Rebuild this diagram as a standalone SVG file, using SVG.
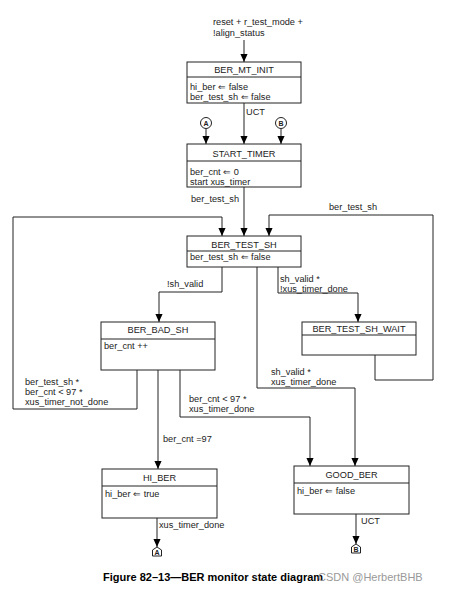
<svg xmlns="http://www.w3.org/2000/svg" width="452" height="592" viewBox="0 0 452 592">
<defs>
<marker id="ah" markerUnits="userSpaceOnUse" markerWidth="8" markerHeight="9" refX="9" refY="4" orient="auto" viewBox="0 0 9 8">
<path d="M0,0 L9,4 L0,8 z" fill="#000"/>
</marker>
</defs>
<style>
.box{fill:#fff;stroke:#222;stroke-width:1}
.div{stroke:#222;stroke-width:1}
.ln{fill:none;stroke:#222;stroke-width:1}
.arr{fill:none;stroke:#222;stroke-width:1;marker-end:url(#ah)}
text{font-family:"Liberation Sans",Arial,sans-serif;font-size:9.2px;fill:#222}
.t{text-anchor:middle}
.c{font-size:7px;font-weight:bold;text-anchor:middle}
.cap{font-size:11px;font-weight:bold;fill:#000}
.wm{font-size:11px;fill:#999}
</style>
<rect width="452" height="592" fill="#fff"/>
<g id="connectors">
<text x="213" y="24.5">reset + r_test_mode +</text>
<text x="213" y="35.5">!align_status</text>
<line class="arr" x1="244" y1="40" x2="244" y2="62"/>
<line class="arr" x1="244" y1="103" x2="244" y2="144"/>
<text x="246" y="115">UCT</text>
<line class="arr" x1="206" y1="128.5" x2="206" y2="144"/>
<line class="arr" x1="281" y1="128.5" x2="281" y2="144"/>
<line class="arr" x1="244" y1="187" x2="244" y2="236"/>
<text x="191" y="202">ber_test_sh</text>
<polyline class="arr" points="137,370 137,409 13,409 13,217 222,217 222,236"/>
<text x="25" y="385">ber_test_sh *</text>
<text x="25" y="395">ber_cnt &lt; 97 *</text>
<text x="25" y="405">xus_timer_not_done</text>
<polyline class="arr" points="375,355 375,380 433,380 433,215 269,215 269,236"/>
<text x="329" y="210">ber_test_sh</text>
<polyline class="arr" points="222,267 222,292 159,292 159,322"/>
<text x="167" y="287">!sh_valid</text>
<polyline class="arr" points="278,267 278,293 358,293 358,322"/>
<text x="280" y="281.5">sh_valid *</text>
<text x="280" y="291.5">!xus_timer_done</text>
<polyline class="arr" points="257,267 257,388 355,388 355,466"/>
<text x="271" y="375">sh_valid *</text>
<text x="271" y="385">xus_timer_done</text>
<line class="arr" x1="158" y1="370" x2="158" y2="469"/>
<text x="163" y="442">ber_cnt =97</text>
<polyline class="arr" points="180,370 180,417 310,417 310,466"/>
<text x="189" y="402">ber_cnt &lt; 97 *</text>
<text x="189" y="412">xus_timer_done</text>
<line class="arr" x1="157" y1="518" x2="157" y2="547"/>
<text x="159" y="528">xus_timer_done</text>
<line class="arr" x1="356" y1="514" x2="356" y2="544"/>
<text x="361" y="524">UCT</text>
</g>
<g id="conn-A-top">
<circle cx="206" cy="123" r="5.5" fill="#fff" stroke="#222"/>
<text class="c" x="206" y="125.5">A</text>
</g>
<g id="conn-B-top">
<circle cx="281" cy="123" r="5.5" fill="#fff" stroke="#222"/>
<text class="c" x="281" y="125.5">B</text>
</g>
<g id="BER_MT_INIT">
<rect class="box" x="187" y="62" width="114" height="41"/>
<line class="div" x1="187" y1="77" x2="301" y2="77"/>
<text class="t" x="244" y="73">BER_MT_INIT</text>
<text x="190" y="89.5">hi_ber ⇐ false</text>
<text x="190" y="99.5">ber_test_sh ⇐ false</text>
</g>
<g id="START_TIMER">
<rect class="box" x="187" y="144" width="114" height="43"/>
<line class="div" x1="187" y1="161" x2="301" y2="161"/>
<text class="t" x="244" y="157">START_TIMER</text>
<text x="190" y="174.5">ber_cnt ⇐ 0</text>
<text x="190" y="184.5">start xus_timer</text>
</g>
<g id="BER_TEST_SH">
<rect class="box" x="187" y="236" width="114" height="31"/>
<line class="div" x1="187" y1="251" x2="301" y2="251"/>
<text class="t" x="244" y="248">BER_TEST_SH</text>
<text x="190" y="260">ber_test_sh ⇐ false</text>
</g>
<g id="BER_TEST_SH_WAIT">
<rect class="box" x="302" y="322" width="114" height="33"/>
<line class="div" x1="302" y1="335" x2="416" y2="335"/>
<text class="t" x="359" y="332">BER_TEST_SH_WAIT</text>
</g>
<g id="BER_BAD_SH">
<rect class="box" x="101" y="322" width="114" height="48"/>
<line class="div" x1="101" y1="339" x2="215" y2="339"/>
<text class="t" x="158" y="333">BER_BAD_SH</text>
<text x="104" y="349">ber_cnt ++</text>
</g>
<g id="HI_BER">
<rect class="box" x="102" y="469" width="115" height="49"/>
<line class="div" x1="102" y1="486" x2="217" y2="486"/>
<text class="t" x="159.5" y="481">HI_BER</text>
<text x="105" y="497">hi_ber ⇐ true</text>
</g>
<g id="GOOD_BER">
<rect class="box" x="294" y="466" width="115" height="48"/>
<line class="div" x1="294" y1="483" x2="409" y2="483"/>
<text class="t" x="351.5" y="478">GOOD_BER</text>
<text x="297" y="494">hi_ber ⇐ false</text>
</g>
<g id="conn-A-bottom">
<path d="M152.5,556 L152.5,550 L157,547 L161.5,550 L161.5,556 z" fill="#fff" stroke="#222"/>
<text class="c" x="157" y="555">A</text>
</g>
<g id="conn-B-bottom">
<path d="M351.5,553 L351.5,547 L356,544 L360.5,547 L360.5,553 z" fill="#fff" stroke="#222"/>
<text class="c" x="356" y="552">B</text>
</g>
<g id="caption">
<text class="cap" x="103" y="581">Figure 82–13—BER monitor state diagram</text>
<text class="wm" x="318" y="581">CSDN @HerbertBHB</text>
</g>
</svg>
